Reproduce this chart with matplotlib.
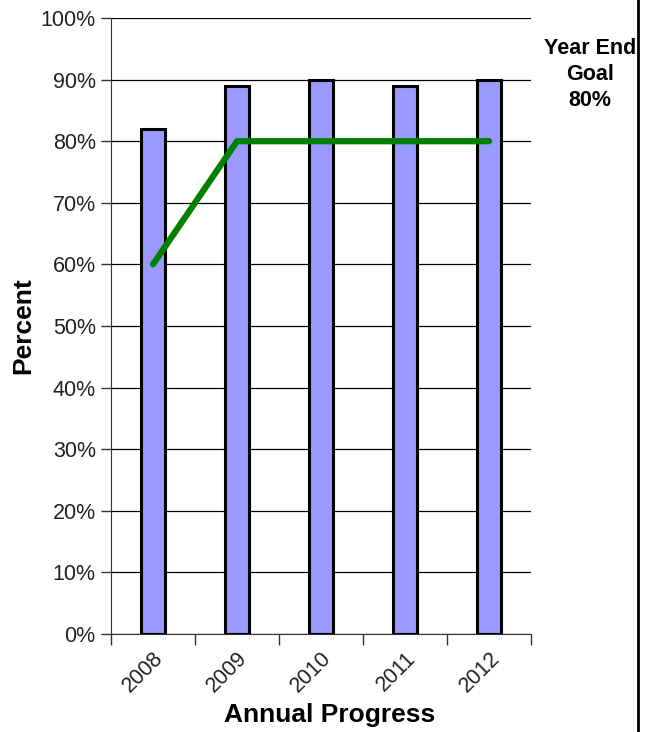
import matplotlib
matplotlib.use("Agg")
import matplotlib.pyplot as plt
from matplotlib.lines import Line2D
from matplotlib.ticker import FixedLocator, PercentFormatter

plt.rcParams['font.family'] = ['Liberation Sans', 'DejaVu Sans']

years = ["2008", "2009", "2010", "2011", "2012"]
actual = [82, 89, 90, 89, 90]      # percent achieved
goal = [60, 80, 80, 80, 80]        # year end goal
goal_note = "Year End\nGoal\n80%"

fig = plt.figure(figsize=(6.55, 7.32), dpi=100)
ax = fig.add_axes([0.1695, 0.1339, 0.6412, 0.8415])

xs = list(range(len(years)))
ax.bar(xs, actual, width=0.29, color="#9999ff", edgecolor="black",
       linewidth=2.2, zorder=3)
ax.plot(xs, goal, color="#008000", linewidth=4.5,
        solid_capstyle="round", zorder=4)

ax.set_xlim(-0.5, len(years) - 0.5)
ax.set_ylim(0, 100)
ax.set_yticks(range(0, 101, 10))
ax.yaxis.set_major_formatter(PercentFormatter(decimals=0))
ax.grid(axis="y", color="black", linewidth=0.9, zorder=0)
ax.set_axisbelow(True)

# category labels at the bar centres, tick marks between categories
ax.set_xticks(xs)
ax.set_xticklabels(years, rotation=45, ha="right", rotation_mode="anchor")
ax.xaxis.set_minor_locator(FixedLocator([x - 0.5 for x in range(len(years) + 1)]))
ax.tick_params(axis="x", which="major", length=0, pad=10, labelsize=15.5,
               labelcolor="#222222")
ax.tick_params(axis="x", which="minor", length=8, width=1, color="#333333",
               direction="out")
ax.tick_params(axis="y", length=7, width=1, color="#333333", pad=4,
               labelsize=15.5, labelcolor="#222222")

for side in ("top", "right"):
    ax.spines[side].set_visible(False)
ax.spines["left"].set_color("#333333")
ax.spines["bottom"].set_color("#333333")

ax.set_xlabel("Annual Progress", fontsize=19, fontweight="bold")
ax.xaxis.set_label_coords(0.52, -0.112)
ax.set_ylabel("Percent", fontsize=19, fontweight="bold", labelpad=4)

fig.text(0.901, 0.948, goal_note, ha="center", va="top", fontsize=15.5,
         fontweight="bold", linespacing=1.3)

# frame line down the right edge
fig.add_artist(Line2D([0.974, 0.974], [0, 1], color="black", linewidth=2))

fig.savefig("out.png", dpi=100)
